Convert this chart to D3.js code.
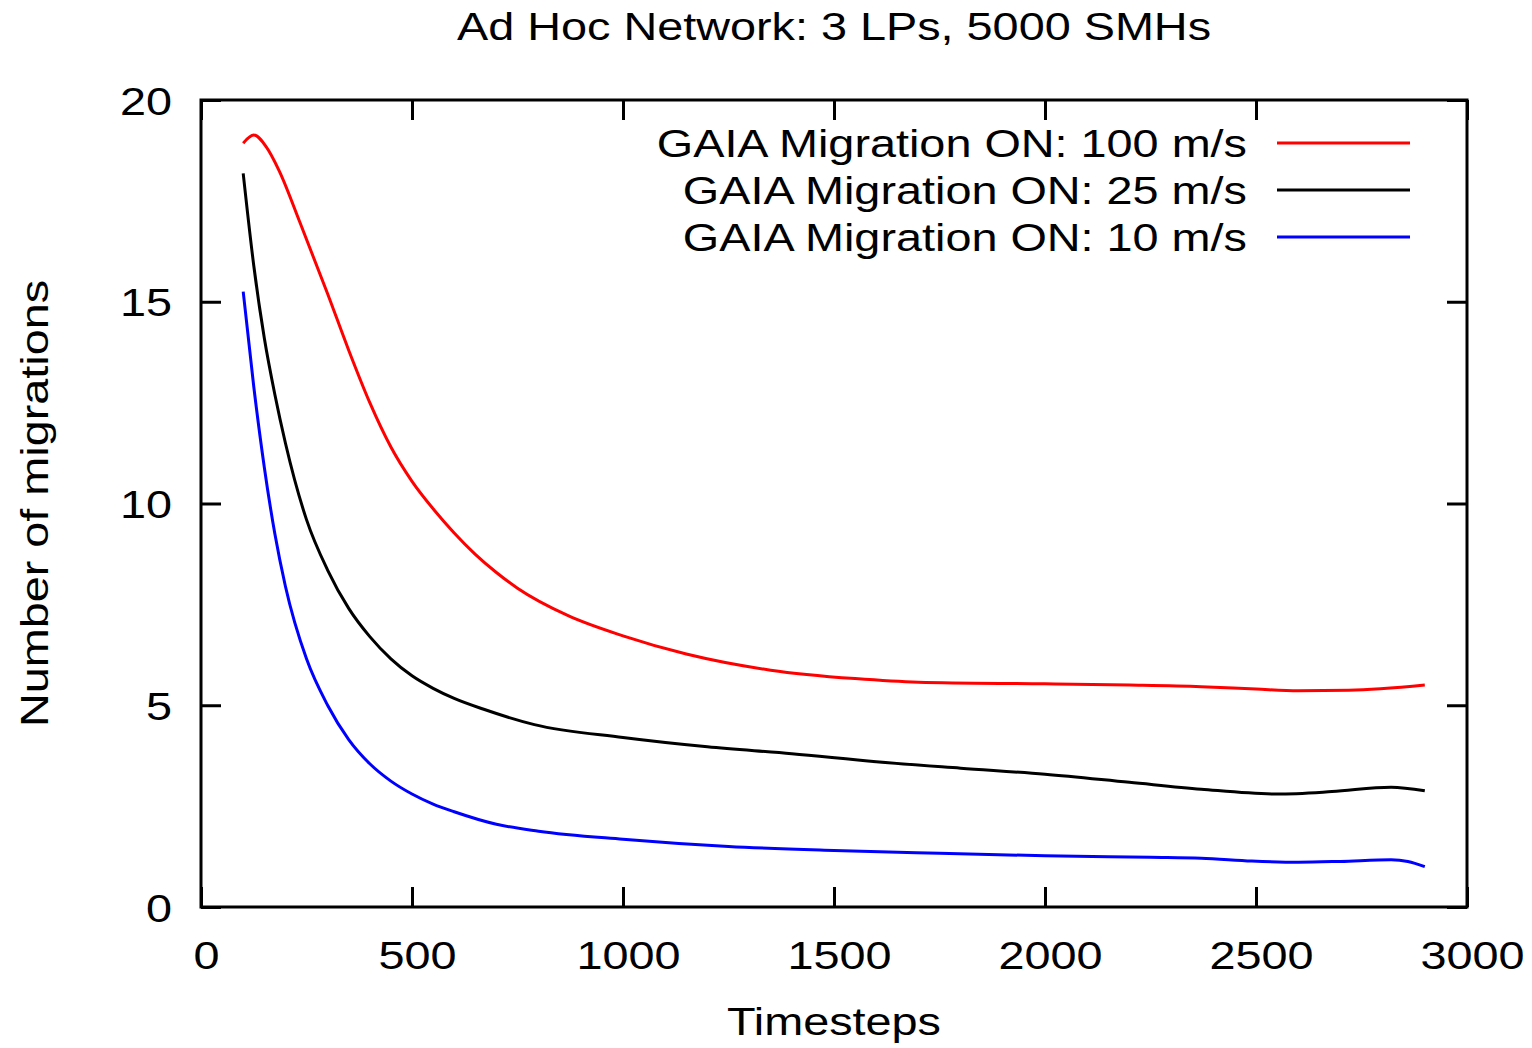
<!DOCTYPE html>
<html>
<head>
<meta charset="utf-8">
<script src="https://cdn.jsdelivr.net/npm/d3@7"></script>
<style>
  html, body { margin: 0; padding: 0; background: #fff; }
  svg { display: block; }
  text { font-family: "Liberation Sans", Arial, Helvetica, sans-serif; fill: #000; }
</style>
</head>
<body>
<svg id="chart" width="1532" height="1048"></svg>
<script>
// ---- data ----
const title = "Ad Hoc Network: 3 LPs, 5000 SMHs";
const xLabel = "Timesteps";
const yLabel = "Number of migrations";
const xTicks = [0, 500, 1000, 1500, 2000, 2500, 3000];
const yTicks = [0, 5, 10, 15, 20];
const seriesNames = ["GAIA Migration ON: 100 m/s", "GAIA Migration ON: 25 m/s", "GAIA Migration ON: 10 m/s"];
const seriesColors = ["#ff0000", "#000000", "#0000ff"];

const t100 = [100, 125, 155, 185, 235, 300, 350, 400, 450, 500, 550, 600, 650, 700, 750, 870, 1000, 1150, 1350, 1550, 1700, 2000, 2200, 2370, 2500, 2600, 2720, 2900];
const v100 = [18.93, 19.13, 18.83, 18.25, 16.95, 15.2, 13.8, 12.5, 11.4, 10.55, 9.87, 9.27, 8.74, 8.29, 7.9, 7.22, 6.72, 6.27, 5.87, 5.66, 5.57, 5.53, 5.50, 5.46, 5.40, 5.36, 5.37, 5.50];

const t25 = [100, 125, 150, 175, 200, 250, 300, 350, 400, 450, 500, 550, 600, 670, 790, 1000, 1200, 1400, 1600, 1800, 2000, 2200, 2370, 2550, 2680, 2820, 2900];
const v25 = [18.18, 15.9, 14.1, 12.7, 11.5, 9.6, 8.35, 7.4, 6.7, 6.15, 5.73, 5.42, 5.17, 4.9, 4.52, 4.2, 3.97, 3.80, 3.60, 3.44, 3.29, 3.09, 2.92, 2.80, 2.86, 2.97, 2.88];

const t10 = [100, 125, 150, 175, 200, 250, 300, 350, 400, 450, 500, 550, 600, 700, 800, 1000, 1250, 1500, 1750, 2000, 2250, 2370, 2490, 2600, 2700, 2820, 2860, 2900];
const v10 = [15.25, 12.9, 10.9, 9.25, 7.95, 6.15, 5.0, 4.15, 3.55, 3.12, 2.8, 2.55, 2.36, 2.05, 1.88, 1.68, 1.5, 1.4, 1.33, 1.27, 1.23, 1.21, 1.14, 1.11, 1.13, 1.17, 1.13, 1.00];

const seriesT = [t100, t25, t10];
const seriesV = [v100, v25, v10];

// ---- layout ----
const L = 201, R = 1467, T = 100, B = 907;
const FS = 39, SX = 1.2;

const svg = d3.select("#chart");
const x = d3.scaleLinear().domain([0, 3000]).range([L, R]);
const y = d3.scaleLinear().domain([0, 20]).range([B, T]);

function styleText(sel) {
  sel.attr("font-size", FS).attr("font-family", '"Liberation Sans", Arial, Helvetica, sans-serif').attr("fill", "#000");
}

// axes (inward ticks)
const gB = svg.append("g").attr("transform", `translate(0,${B})`)
  .call(d3.axisBottom(x).tickValues(xTicks).tickSizeInner(-20).tickSizeOuter(0).tickFormat(d3.format("d")));
const gL = svg.append("g").attr("transform", `translate(${L},0)`)
  .call(d3.axisLeft(y).tickValues(yTicks).tickSizeInner(-20).tickSizeOuter(0).tickFormat(d3.format("d")));
const gT = svg.append("g").attr("transform", `translate(0,${T})`)
  .call(d3.axisTop(x).tickValues(xTicks).tickSizeInner(-20).tickSizeOuter(0).tickFormat(""));
const gR = svg.append("g").attr("transform", `translate(${R},0)`)
  .call(d3.axisRight(y).tickValues(yTicks).tickSizeInner(-20).tickSizeOuter(0).tickFormat(""));

[gB, gL, gT, gR].forEach(g => {
  g.select(".domain").remove();
  g.selectAll(".tick line").attr("stroke", "#000").attr("stroke-width", 3);
  g.attr("font-family", null).attr("font-size", null);
});

gB.selectAll(".tick text")
  .attr("y", null).attr("dy", null).attr("x", null)
  .attr("text-anchor", "middle")
  .attr("transform", `translate(5,62) scale(${SX},1)`)
  .call(styleText);

gL.selectAll(".tick text")
  .attr("y", null).attr("dy", null).attr("x", null)
  .attr("text-anchor", "end")
  .attr("transform", `translate(-29,14) scale(${SX},1)`)
  .call(styleText);

// frame
svg.append("rect")
  .attr("x", L).attr("y", T).attr("width", R - L).attr("height", B - T)
  .attr("fill", "none").attr("stroke", "#000").attr("stroke-width", 3);

// lines
const line = d3.line()
  .x(d => x(d[0]))
  .y(d => y(d[1]))
  .curve(d3.curveMonotoneX);

seriesT.forEach((ts, i) => {
  const pts = ts.map((t, j) => [t, seriesV[i][j]]);
  svg.append("path")
    .datum(pts)
    .attr("d", line)
    .attr("fill", "none")
    .attr("stroke", seriesColors[i])
    .attr("stroke-width", 3)
    .attr("stroke-linejoin", "round");
});

// legend
const legTextX = 1247, legLineX0 = 1277, legLineX1 = 1410, legY0 = 143, legDY = 47;
seriesNames.forEach((name, i) => {
  const cy = legY0 + i * legDY;
  svg.append("text")
    .attr("text-anchor", "end")
    .attr("transform", `translate(${legTextX},${cy + 14}) scale(${SX},1)`)
    .text(name)
    .call(styleText);
  svg.append("line")
    .attr("x1", legLineX0).attr("x2", legLineX1)
    .attr("y1", cy).attr("y2", cy)
    .attr("stroke", seriesColors[i]).attr("stroke-width", 3);
});

// title
svg.append("text")
  .attr("text-anchor", "middle")
  .attr("transform", `translate(${(L + R) / 2},40) scale(${SX},1)`)
  .text(title)
  .call(styleText);

// x label
svg.append("text")
  .attr("text-anchor", "middle")
  .attr("transform", `translate(${(L + R) / 2},1035) scale(${SX},1)`)
  .text(xLabel)
  .call(styleText);

// y label
svg.append("text")
  .attr("text-anchor", "middle")
  .attr("transform", `translate(48,${(T + B) / 2}) rotate(-90) scale(${SX},1)`)
  .text(yLabel)
  .call(styleText);
</script>
</body>
</html>
